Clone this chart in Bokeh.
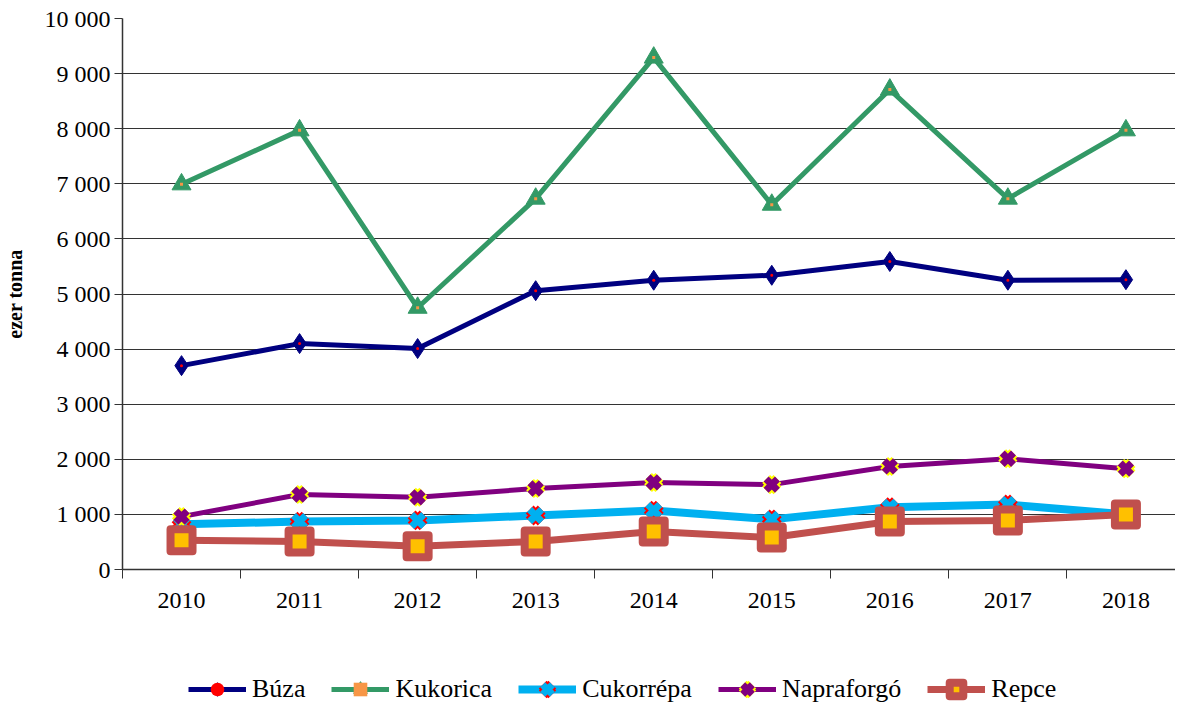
from bokeh.plotting import figure
from bokeh.models import Range1d, FixedTicker, Legend, LegendItem
from bokeh.layouts import column
from bokeh.embed import file_html
from bokeh.resources import INLINE

years = [2010, 2011, 2012, 2013, 2014, 2015, 2016, 2017, 2018]
buza = [3700, 4100, 4010, 5060, 5250, 5340, 5590, 5250, 5260]
kukorica = [6990, 7970, 4750, 6730, 9290, 6620, 8710, 6730, 7970]
cukorrepa = [820, 870, 890, 980, 1070, 910, 1130, 1180, 1000]
napraforgo = [960, 1360, 1310, 1470, 1580, 1540, 1870, 2010, 1830]
repce = [530, 510, 420, 510, 690, 580, 870, 890, 1000]
y_ticks = [0, 1000, 2000, 3000, 4000, 5000, 6000, 7000, 8000, 9000, 10000]
y_labels = ["0", "1 000", "2 000", "3 000", "4 000", "5 000", "6 000", "7 000", "8 000", "9 000", "10 000"]

FONT = "Liberation Serif"

p = figure(width=1175, height=650, output_backend="svg", toolbar_location=None,
           x_range=Range1d(2009.5, 2018.42), y_range=Range1d(0, 10000),
           min_border_left=122, min_border_right=0, min_border_top=18, min_border_bottom=81)
p.outline_line_color = None
p.background_fill_color = "white"

# axes
p.xaxis.ticker = FixedTicker(ticks=years, minor_ticks=[y + 0.5 for y in [2009] + years])
p.xaxis.major_tick_line_color = None
p.xaxis.major_tick_out = 0
p.xaxis.major_tick_in = 0
p.xaxis.minor_tick_out = 9
p.xaxis.minor_tick_in = 0
p.xaxis.minor_tick_line_color = "#333333"
p.xaxis.axis_line_color = "#333333"
p.xaxis.axis_line_width = 1.5
p.xaxis.major_label_text_font = FONT
p.xaxis.major_label_text_font_size = "24px"
p.xaxis.major_label_text_color = "black"
p.xaxis.major_label_standoff = 14

p.yaxis.ticker = FixedTicker(ticks=y_ticks)
p.yaxis.major_label_overrides = {t: l for t, l in zip(y_ticks, y_labels)}
p.yaxis.major_tick_out = 8
p.yaxis.major_tick_in = 0
p.yaxis.minor_tick_line_color = None
p.yaxis.axis_line_color = "#333333"
p.yaxis.axis_line_width = 1.5
p.yaxis.major_tick_line_color = "#333333"
p.yaxis.major_label_text_font = FONT
p.yaxis.major_label_text_font_size = "24px"
p.yaxis.major_label_text_color = "black"
p.yaxis.major_label_standoff = 4
p.yaxis.axis_label = "ezer tonna"
p.yaxis.axis_label_text_font = FONT
p.yaxis.axis_label_text_font_size = "20px"
p.yaxis.axis_label_text_font_style = "bold"
p.yaxis.axis_label_text_color = "black"
p.yaxis.axis_label_standoff = 16

p.xgrid.grid_line_color = None
p.ygrid.grid_line_color = "#333333"
p.ygrid.grid_line_width = 1

# legend strip: same series drawn outside its visible range, only the legend shows
q = figure(width=1175, height=56, output_backend="svg", toolbar_location=None,
           x_range=Range1d(2009.5, 2018.42), y_range=Range1d(50000, 60000),
           min_border=0, x_axis_location=None, y_axis_location=None)
q.outline_line_color = None
q.xgrid.grid_line_color = None
q.ygrid.grid_line_color = None


def draw(fig, legend_items):
    r1 = fig.line(years, buza, line_color="#000080", line_width=5)
    r2 = fig.scatter(years, buza, marker="diamond", size=20, fill_color="#000080", line_color="#000080")
    r3 = fig.scatter(years, buza, marker="circle", size=3, fill_color="red", line_color=None)
    legend_items.append(LegendItem(label="Búza", renderers=[r1, r2, r3]))

    r1 = fig.line(years, kukorica, line_color="#339966", line_width=5)
    r2 = fig.scatter(years, kukorica, marker="triangle", size=19, fill_color="#339966", line_color="#339966")
    r3 = fig.scatter(years, kukorica, marker="square", size=3, fill_color="#F79646", line_color=None)
    legend_items.append(LegendItem(label="Kukorica", renderers=[r1, r2, r3]))

    r1 = fig.line(years, cukorrepa, line_color="#00B0F0", line_width=8)
    r2 = fig.scatter(years, cukorrepa, marker="x", size=17, line_color="red", line_width=11)
    r3 = fig.scatter(years, cukorrepa, marker="x", size=17, line_color="#00B0F0", line_width=7)
    legend_items.append(LegendItem(label="Cukorrépa", renderers=[r1, r2, r3]))

    r1 = fig.line(years, napraforgo, line_color="#800080", line_width=5)
    r2 = fig.scatter(years, napraforgo, marker="x", size=16, line_color="yellow", line_width=11)
    r3 = fig.scatter(years, napraforgo, marker="x", size=16, line_color="#800080", line_width=7)
    legend_items.append(LegendItem(label="Napraforgó", renderers=[r1, r2, r3]))

    r1 = fig.line(years, repce, line_color="#C0504D", line_width=7)
    r2 = fig.scatter(years, repce, marker="square", size=22, fill_color="#FFC000", line_color="#C0504D",
                     line_width=8, line_join="round")
    legend_items.append(LegendItem(label="Repce", renderers=[r1, r2]))


draw(p, [])
items = []
draw(q, items)

legend = Legend(items=items, orientation="horizontal", location=(66, 0),
                label_text_font=FONT, label_text_font_size="26px", label_text_color="black",
                border_line_color=None, background_fill_alpha=0,
                glyph_width=58, glyph_height=34, spacing=26, label_standoff=6,
                margin=0, padding=0)
q.add_layout(legend, "center")

layout = column(p, q, spacing=0)
open("out.html", "w").write(file_html(layout, INLINE))
